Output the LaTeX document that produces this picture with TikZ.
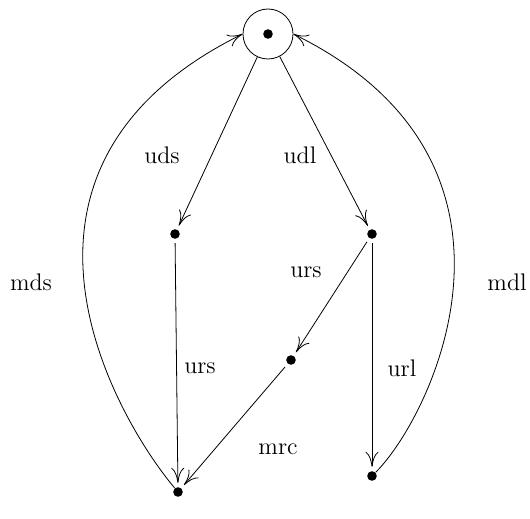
\documentclass[tikz,border=0pt]{standalone}
\usepackage{tikz}
\usetikzlibrary{arrows.meta, positioning}
\tikzset{
  pt/.style={circle, fill, inner sep=0pt, minimum size=4.8pt},
  arr/.style={-{To[length=7.5pt,width=6.5pt]}, shorten >=2pt},
}

\begin{document}
\begin{tikzpicture}[x=0.5pt, y=-0.5pt, font=\large]
\useasboundingbox (0,0) rectangle (530,519);
\node[draw, circle, minimum size=25pt, inner sep=0pt] (top) at (268,34) {};
\node[pt] at (top.center) {};
\node[pt] (ul) at (175,234) {};
\node[pt] (ur) at (372,234) {};
\node[pt] (mid) at (291,360) {};
\node[pt] (bl) at (178,492) {};
\node[pt] (br) at (372,476) {};
% arrows
\draw[arr] (top) -- (ul);
\draw[arr] (top) -- (ur);
\draw[arr, shorten <=2pt] (ul) -- (bl);
\draw[arr, shorten <=2pt] (ur) -- (mid);
\draw[arr, shorten <=2pt] (ur) -- (br);
\draw[arr, shorten <=2pt] (mid) -- (bl);
\draw[arr, shorten >=0pt] (bl) .. controls (115,417) and (-29,168) .. (top.west);
\draw[arr, shorten >=0pt] (br) .. controls (433,415) and (554,162) .. (top.east);
% labels
\node at (162,155) {uds};
\node at (300,155) {udl};
\node at (31,282) {mds};
\node at (507,282) {mdl};
\node at (200,368) {urs};
\node at (306,272) {urs};
\node at (402,368) {url};
\node at (278,449) {mrc};
\end{tikzpicture}
\end{document}
